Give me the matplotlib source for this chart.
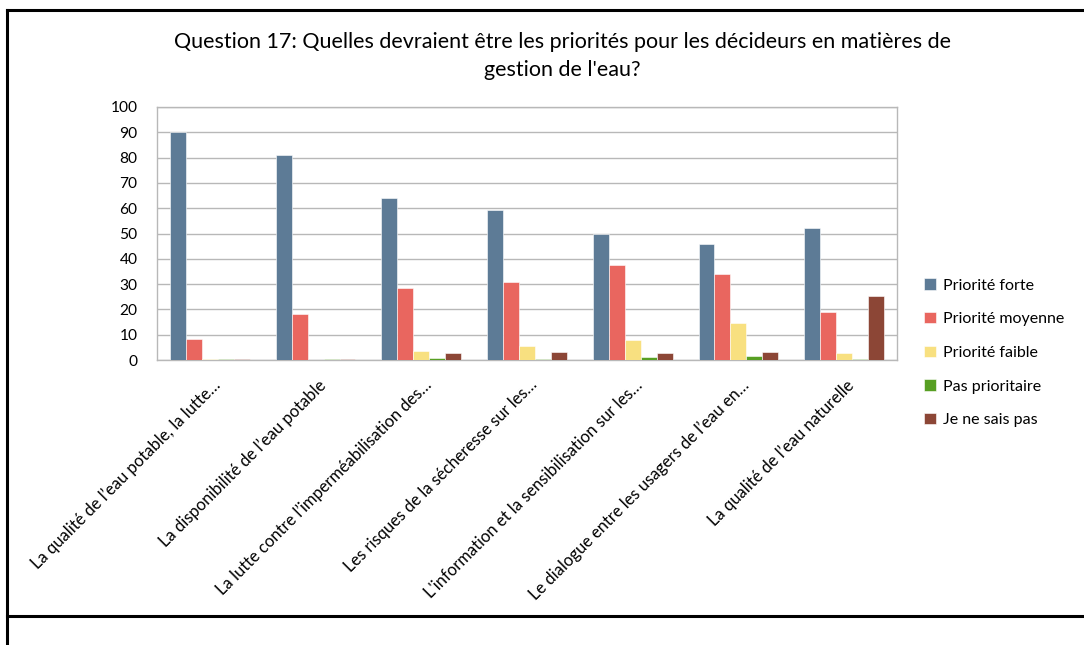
import matplotlib
matplotlib.use("Agg")
import matplotlib.pyplot as plt
import numpy as np
from matplotlib.lines import Line2D
import matplotlib.transforms as mtrans

categories = [
    "La qualité de l’eau potable, la lutte…",
    "La disponibilité de l’eau potable",
    "La lutte contre l’imperméabilisation des…",
    "Les risques de la sécheresse sur les…",
    "L'information et la sensibilisation sur les…",
    "Le dialogue entre les usagers de l’eau en…",
    "La qualité de l’eau naturelle",
]
series_names = ["Priorité forte", "Priorité moyenne", "Priorité faible",
                "Pas prioritaire", "Je ne sais pas"]
priorite_forte = [90, 81, 64, 59.3, 50, 46, 52.2]
priorite_moyenne = [8.3, 18.1, 28.5, 30.7, 37.5, 34, 19]
priorite_faible = [0.5, 0, 3.6, 5.6, 7.9, 14.7, 2.8]
pas_prioritaire = [0.3, 0.3, 0.6, 0.3, 1.2, 1.6, 0.3]
je_ne_sais_pas = [0.3, 0.3, 2.8, 3.3, 2.8, 3.0, 25.2]
yticks = list(range(0, 101, 10))

colors = ["#5D7B96", "#E9665F", "#F8E080", "#579F23", "#8C4636"]
series = [priorite_forte, priorite_moyenne, priorite_faible, pas_prioritaire, je_ne_sais_pas]

plt.rcParams['font.family'] = ['Lato', 'DejaVu Sans']
fig = plt.figure(figsize=(10.84, 6.45), dpi=100)
ax = fig.add_axes([157/1084, 1-360/645, 740/1084, 253/645])

n = len(categories)
x = np.arange(n)
bw = 0.151
for i, (vals, c, name) in enumerate(zip(series, colors, series_names)):
    ax.bar(x + (i - 2) * bw, vals, width=bw, color=c, label=name,
           edgecolor='white', linewidth=0.4, zorder=3)

ax.set_xlim(-0.5, n - 0.5)
ax.set_ylim(0, 100)
ax.set_yticks(yticks)
ax.set_yticklabels([str(t) for t in yticks], fontsize=11.2)
ax.yaxis.grid(True, color='#B8B8B8', linewidth=1.0, zorder=0)
for s in ax.spines.values():
    s.set_color('#B8B8B8')
    s.set_linewidth(1.0)
ax.tick_params(axis='y', length=0, pad=14)
ax.tick_params(axis='x', length=0)
ax.set_xticks(x)
ax.set_xticklabels(categories, rotation=45, ha='right', rotation_mode='anchor',
                   fontsize=11.9)
off = mtrans.ScaledTranslation(2/100, -12/100, fig.dpi_scale_trans)
for lab in ax.get_xticklabels():
    lab.set_transform(lab.get_transform() + off)

fig.text(562/1084, 1-42/645, "Question 17: Quelles devraient être les priorités pour les décideurs en matières de",
         ha='center', va='center', fontsize=15.5)
fig.text(562/1084, 1-70/645, "gestion de l'eau?", ha='center', va='center', fontsize=15.5)

leg = fig.legend(loc='upper left', bbox_to_anchor=(910/1084, 1-264/645), frameon=False,
                 fontsize=11.5, handlelength=0.7, handleheight=0.7,
                 labelspacing=1.22, handletextpad=0.45)

# table borders
lw = 2.2
fig.add_artist(Line2D([6.5/1084, 6.5/1084], [0, 1-10/645], transform=fig.transFigure, color='black', lw=lw))
fig.add_artist(Line2D([6.5/1084, 1], [1-10/645, 1-10/645], transform=fig.transFigure, color='black', lw=lw))
fig.add_artist(Line2D([6.5/1084, 1], [1-615.5/645, 1-615.5/645], transform=fig.transFigure, color='black', lw=lw))

fig.savefig("out.png", dpi=100)
